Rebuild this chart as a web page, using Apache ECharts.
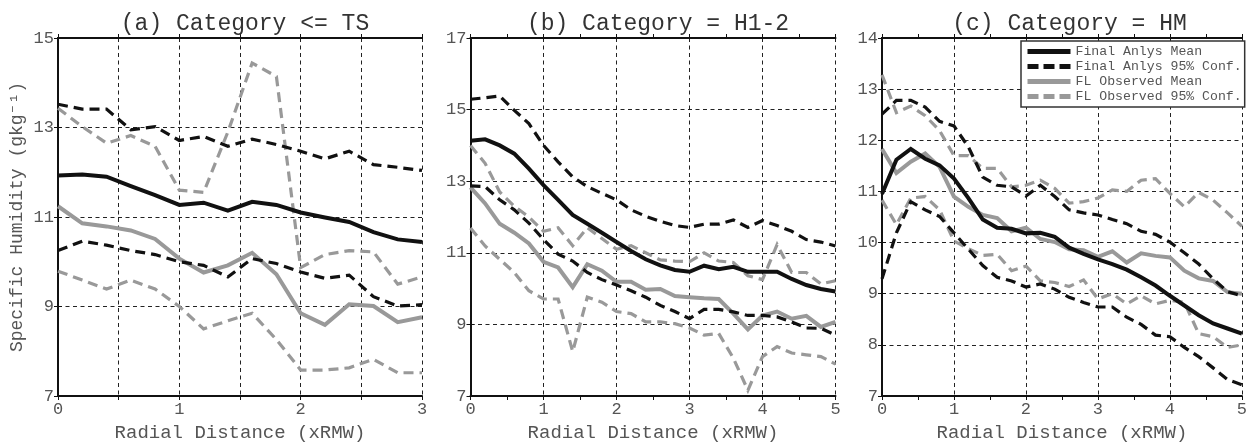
<!DOCTYPE html>
<html><head><meta charset="utf-8">
<script src="https://cdn.jsdelivr.net/npm/echarts@6/dist/echarts.min.js"></script>
<style>html,body{margin:0;padding:0;background:#fff}#c{width:1250px;height:447px}</style>
</head><body><div id="c"></div>
<script>
// ---------- data ----------
const titles = ['(a) Category <= TS', '(b) Category = H1-2', '(c) Category = HM'];
const xName = 'Radial Distance (xRMW)';
const yName = 'Specific Humidity (gkg\u207B\u00B9)';
const seriesNames = ['Final Anlys Mean', 'Final Anlys 95% Conf.', 'FL Observed Mean', 'FL Observed 95% Conf.'];

const xA = [0,0.2,0.4,0.6,0.8,1.0,1.2,1.4,1.6,1.8,2.0,2.2,2.4,2.6,2.8,3.0];
const xBC = [0,0.2,0.4,0.6,0.8,1.0,1.2,1.4,1.6,1.8,2.0,2.2,2.4,2.6,2.8,3.0,3.2,3.4,3.6,3.8,4.0,4.2,4.4,4.6,4.8,5.0];

// Panel (a)
const aAnlysMean = [11.93,11.95,11.90,11.69,11.49,11.27,11.32,11.14,11.34,11.27,11.10,10.99,10.89,10.66,10.50,10.44];
const aAnlysUp   = [13.52,13.41,13.41,12.95,13.02,12.71,12.80,12.58,12.74,12.62,12.47,12.30,12.47,12.17,12.11,12.04];
const aAnlysLo   = [10.25,10.46,10.37,10.25,10.16,10.00,9.92,9.66,10.07,9.96,9.77,9.63,9.70,9.22,9.01,9.04];
const aObsMean   = [11.24,10.86,10.79,10.70,10.51,10.07,9.76,9.92,10.20,9.72,8.85,8.59,9.05,9.01,8.65,8.76];
const aObsUp     = [13.43,13.02,12.65,12.82,12.58,11.60,11.55,12.90,14.44,14.14,9.87,10.16,10.25,10.22,9.50,9.66];
const aObsLo     = [9.79,9.59,9.39,9.59,9.39,9.00,8.50,8.68,8.85,8.26,7.58,7.58,7.63,7.82,7.52,7.52];

// Panel (b)
const bAnlysMean = [14.13,14.17,14.00,13.77,13.35,12.89,12.48,12.06,11.81,11.56,11.30,11.05,10.82,10.65,10.52,10.47,10.64,10.54,10.61,10.47,10.47,10.47,10.27,10.10,9.99,9.92];
const bAnlysUp   = [15.29,15.33,15.38,14.98,14.61,14.00,13.54,13.12,12.85,12.66,12.48,12.20,12.02,11.88,11.76,11.71,11.80,11.80,11.92,11.71,11.90,11.76,11.60,11.37,11.30,11.19];
const bAnlysLo   = [12.87,12.85,12.48,12.20,11.83,11.37,10.96,10.77,10.45,10.25,10.10,9.94,9.76,9.53,9.36,9.16,9.42,9.42,9.35,9.25,9.25,9.21,9.07,8.90,8.89,8.70];
const bObsMean   = [12.83,12.38,11.81,11.56,11.26,10.75,10.59,10.04,10.68,10.50,10.19,10.19,9.97,9.99,9.79,9.76,9.73,9.71,9.30,8.86,9.25,9.36,9.16,9.24,8.93,9.07];
const bObsUp     = [14.00,13.50,12.70,12.30,12.00,11.60,11.70,11.20,11.70,11.40,11.10,11.20,11.00,10.80,10.77,10.75,11.00,10.77,10.73,10.36,10.25,11.23,10.45,10.45,10.13,10.22];
const bObsLo     = [11.69,11.19,10.82,10.45,9.94,9.71,9.71,8.24,9.76,9.62,9.36,9.30,9.07,9.07,9.02,8.90,8.70,8.75,8.06,7.16,8.10,8.38,8.20,8.15,8.10,7.89];

// Panel (c)
const cAnlysMean = [10.95,11.62,11.83,11.64,11.51,11.25,10.87,10.45,10.29,10.27,10.18,10.19,10.11,9.90,9.78,9.67,9.58,9.47,9.32,9.16,8.96,8.77,8.58,8.42,8.32,8.22];
const cAnlysUp   = [12.51,12.78,12.78,12.65,12.37,12.28,11.87,11.28,11.12,11.09,10.91,11.12,10.90,10.64,10.58,10.54,10.45,10.37,10.22,10.16,10.01,9.80,9.58,9.29,9.04,8.96];
const cAnlysLo   = [9.29,10.19,10.80,10.64,10.51,10.19,9.87,9.55,9.32,9.25,9.13,9.19,9.09,8.93,8.83,8.74,8.74,8.54,8.40,8.19,8.16,7.95,7.77,7.55,7.32,7.22];
const cObsMean   = [11.83,11.36,11.58,11.74,11.48,10.90,10.70,10.54,10.48,10.22,10.29,10.07,10.01,9.87,9.85,9.72,9.83,9.61,9.79,9.74,9.71,9.45,9.30,9.25,9.03,9.00];
const cObsUp     = [13.28,12.54,12.67,12.48,12.19,11.70,11.70,11.45,11.45,11.09,11.12,11.22,11.06,10.77,10.80,10.87,11.03,11.00,11.22,11.25,10.96,10.70,10.98,10.83,10.58,10.32];
const cObsLo     = [10.83,10.35,10.87,10.90,10.64,10.03,9.88,9.75,9.77,9.45,9.54,9.25,9.22,9.14,9.27,8.90,9.00,8.80,8.96,8.80,8.87,8.83,8.22,8.16,7.95,8.00];

// axis ranges
const xMaxes = [3, 5, 5];
const yMins = [7, 7, 7];
const yMaxes = [15, 17, 14];
const yIntervals = [2, 2, 1];

// ---------- chart ----------
const FONT = 'Liberation Mono, DejaVu Sans Mono, monospace';
const BLACK = '#111';
const GRAY = '#999';
const panels = [
  {left: 58, width: 364, xs: xA, d: [aAnlysMean, aAnlysUp, aAnlysLo, aObsMean, aObsUp, aObsLo]},
  {left: 470.5, width: 365, xs: xBC, d: [bAnlysMean, bAnlysUp, bAnlysLo, bObsMean, bObsUp, bObsLo]},
  {left: 882, width: 365, xs: xBC, d: [cAnlysMean, cAnlysUp, cAnlysLo, cObsMean, cObsUp, cObsLo]}
];

const grids = [], xAxes = [], yAxes = [], series = [], titleArr = [];
const axisLine = {show: true, lineStyle: {color: BLACK, width: 2}};
const tick = {show: true, inside: false, length: 4, lineStyle: {color: BLACK, width: 1}};
const gridLine = {show: true, lineStyle: {color: '#222', width: 1, type: [4, 3.5]}};

panels.forEach((p, i) => {
  grids.push({left: p.left, top: 38, width: p.width, height: 362, containLabel: false});
  titleArr.push({
    text: titles[i], left: p.left + p.width / 2, top: 7, textAlign: 'center',
    textStyle: {fontFamily: FONT, fontSize: 23, fontWeight: 'normal', color: '#333'}
  });
  const isA = i === 0;
  xAxes.push({
    type: 'value', gridIndex: i, position: 'bottom', min: 0, max: xMaxes[i],
    interval: isA ? 0.5 : 1,
    axisLine: axisLine, axisTick: tick,
    minorTick: isA ? {show: false} : {show: true, splitNumber: 2, length: 4, lineStyle: {color: BLACK, width: 1}},
    splitLine: gridLine,
    axisLabel: {
      fontFamily: FONT, fontSize: 17, color: '#555', margin: 5, showMinLabel: true, showMaxLabel: true,
      formatter: v => (Math.abs(v - Math.round(v)) < 1e-9 ? String(Math.round(v)) : '')
    },
    name: xName, nameLocation: 'middle', nameGap: 27,
    nameTextStyle: {fontFamily: FONT, fontSize: 19, color: '#555'}
  });
  xAxes.push({
    type: 'value', gridIndex: i, position: 'top', min: 0, max: xMaxes[i], interval: 0.5,
    axisLine: axisLine, axisTick: tick, splitLine: {show: false}, axisLabel: {show: false}
  });
  yAxes.push({
    type: 'value', gridIndex: i, position: 'left', min: yMins[i], max: yMaxes[i], interval: yIntervals[i],
    axisLine: axisLine, axisTick: tick, splitLine: gridLine,
    axisLabel: {fontFamily: FONT, fontSize: 17, color: '#555', margin: 4, showMinLabel: true, showMaxLabel: true},
    name: isA ? yName : '', nameLocation: 'middle', nameGap: 32,
    nameTextStyle: {fontFamily: FONT, fontSize: 18, color: '#555'}
  });
  yAxes.push({
    type: 'value', gridIndex: i, position: 'right', min: yMins[i], max: yMaxes[i], interval: yIntervals[i],
    axisLine: axisLine, axisTick: tick, splitLine: {show: false}, axisLabel: {show: false}
  });
  const styles = [
    {name: seriesNames[0], color: BLACK, width: 4, type: 'solid', z: 6},
    {name: seriesNames[1], color: BLACK, width: 3.2, type: [10, 6], z: 5},
    {name: seriesNames[1], color: BLACK, width: 3.2, type: [10, 6], z: 5},
    {name: seriesNames[2], color: GRAY, width: 4, type: 'solid', z: 4},
    {name: seriesNames[3], color: GRAY, width: 3.2, type: [10, 6], z: 3},
    {name: seriesNames[3], color: GRAY, width: 3.2, type: [10, 6], z: 3}
  ];
  styles.forEach((s, k) => {
    series.push({
      type: 'line', name: s.name, xAxisIndex: 2 * i, yAxisIndex: 2 * i,
      data: p.xs.map((x, j) => [x, p.d[k][j]]),
      symbol: 'none', showSymbol: false, z: s.z, animation: false,
      color: s.color,
      lineStyle: {color: s.color, width: s.width, type: s.type, cap: 'butt', join: 'miter'},
      emphasis: {disabled: true}
    });
  });
});

const legendColors = [BLACK, BLACK, GRAY, GRAY];
const legendTypes = ['solid', [11, 5], 'solid', [11, 5]];
const legendData = seriesNames.map((n, k) => ({
  name: n,
  itemStyle: {opacity: 0},
  lineStyle: {color: legendColors[k], width: 5, type: legendTypes[k], cap: 'butt', opacity: 1}
}));

const chart = echarts.init(document.getElementById('c'), null, {renderer: 'canvas'});
chart.setOption({
  backgroundColor: '#fff',
  animation: false,
  title: titleArr,
  grid: grids,
  xAxis: xAxes,
  yAxis: yAxes,
  legend: {
    data: legendData,
    orient: 'vertical', left: 1021, top: 41,
    backgroundColor: '#fff', borderColor: '#333', borderWidth: 1.5,
    padding: [4, 3, 4, 4], itemGap: 2, itemWidth: 43, itemHeight: 13,
    itemStyle: {opacity: 0},
    textStyle: {fontFamily: FONT, fontSize: 13.2, color: '#555', padding: [0, 0, 0, 0]},
    z: 10
  },
  series: series
});
</script>
</body></html>
